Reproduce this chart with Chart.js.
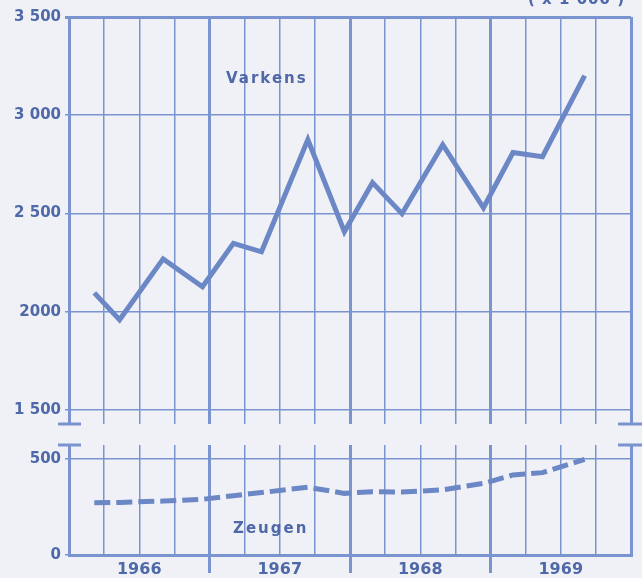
<!DOCTYPE html>
<html>
<head>
<meta charset="utf-8">
<script src="https://cdn.jsdelivr.net/npm/chart.js@4.4.1/dist/chart.umd.min.js"></script>
<style>
  body { margin: 0; background: #eff1f6; }
  #wrap { position: relative; width: 642px; height: 578px; overflow: hidden; font-family: 'DejaVu Sans', sans-serif; color: #4f68a8; }
  canvas { position: absolute; left: 0; }
  .note { position: absolute; font-size: 15px; font-weight: bold; line-height: 16px; letter-spacing: 2px; white-space: nowrap; }
</style>
</head>
<body>
<div id="wrap">
  <canvas id="top" width="642" height="437" style="top:0"></canvas>
  <canvas id="bot" width="642" height="148" style="top:430px"></canvas>
  <div class="note" style="left:226px; top:70px">Varkens</div>
  <div class="note" style="left:233px; top:520px">Zeugen</div>
  <div class="note" style="left:528px; top:-9px; letter-spacing:1px">( x 1 000 )</div>
</div>
<script>
/* Varkens en zeugen 1966-1969 (x 1000) */
const DATES = [1966.18, 1966.36, 1966.67, 1966.95, 1967.17, 1967.37, 1967.70, 1967.96,
               1968.16, 1968.37, 1968.66, 1968.95, 1969.16, 1969.37, 1969.67];
const VARKENS = [2096, 1959, 2269, 2127, 2348, 2305, 2876, 2407, 2657, 2499, 2850, 2529, 2810, 2789, 3202];
const ZEUGEN = [272, 274, 281, 290, 309, 325, 353, 321, 330, 328, 339, 373, 417, 429, 498];
const YEARS = ['1966', '1967', '1968', '1969'];
const QUARTERS = [1966, 1966.25, 1966.5, 1966.75, 1967, 1967.25, 1967.5, 1967.75,
                  1968, 1968.25, 1968.5, 1968.75, 1969, 1969.25, 1969.5, 1969.75, 1970];
const TOP_TICKS = [1500, 2000, 2500, 3000, 3500];
const TOP_LABELS = ['1 500', '2000', '2 500', '3 000', '3 500'];
const BOT_TICKS = [0, 500];
const BOT_LABELS = ['0', '500'];

const LINE = '#6c87c5';
const GRID = '#7a94cf';
const TEXT = '#4f68a8';
const FONT = { family: 'DejaVu Sans', size: 15, weight: 'bold' };

const isYear = (v) => Math.abs(v - Math.round(v)) < 1e-6;
const pts = (ys) => DATES.map((d, i) => ({ x: d, y: ys[i] }));

// korte streepjes bij de asbreuk
const breakMarks = {
  id: 'breakMarks',
  afterDraw(chart, args, opts) {
    const { left, right, top, bottom } = chart.chartArea;
    const y = opts.edge === 'bottom' ? bottom : top;
    const c = chart.ctx;
    c.save();
    c.strokeStyle = GRID; c.lineWidth = 3;
    c.beginPath();
    c.moveTo(left - 11, y); c.lineTo(left + 12, y);
    c.moveTo(right - 13, y); c.lineTo(right + 11, y);
    c.stroke();
    c.restore();
  },
};

const xScale = (bottomAxis) => ({
  type: 'linear', min: 1966, max: 1970,
  afterBuildTicks: (s) => { s.ticks = QUARTERS.map((v) => ({ value: v })); },
  afterFit: (s) => { s.height = bottomAxis ? 23 : 0; },
  ticks: {
    display: bottomAxis, autoSkip: false, maxRotation: 0, padding: -13,
    color: TEXT, font: { ...FONT, size: 16 },
    callback: (v) => (Math.abs(v % 1 - 0.5) < 1e-6 ? YEARS[Math.floor(v) - 1966] : ''),
  },
  grid: {
    color: GRID,
    lineWidth: (c) => (isYear(c.tick.value) ? 3 : 1.5),
    drawTicks: bottomAxis, tickLength: 18,
    tickColor: (c) => (isYear(c.tick.value) && c.tick.value > 1966 && c.tick.value < 1970 ? GRID : 'transparent'),
    tickWidth: 3,
  },
  border: { display: bottomAxis, width: 3, color: GRID },
});

const yScale = (min, max, ticks, labels, thickTop) => ({
  min, max,
  afterBuildTicks: (s) => { s.ticks = ticks.map((v) => ({ value: v })); },
  afterFit: (s) => { s.width = 69; },
  ticks: { color: TEXT, font: FONT, padding: 4, callback: (v) => labels[ticks.indexOf(v)] },
  grid: { color: GRID, lineWidth: (c) => (thickTop && c.tick.value === max ? 3 : 1.5), tickLength: 4 },
  border: { width: 3, color: GRID },
});

new Chart(document.getElementById('top'), {
  type: 'line',
  data: { datasets: [{ label: 'Varkens', data: pts(VARKENS), borderColor: LINE, borderWidth: 5, pointRadius: 0, tension: 0, borderJoinStyle: 'miter' }] },
  options: {
    responsive: false, animation: false, devicePixelRatio: 1,
    layout: { padding: { top: 17, right: 11, bottom: 6, left: 0 } },
    plugins: { legend: { display: false }, tooltip: { enabled: false }, breakMarks: { edge: 'bottom' } },
    scales: { x: xScale(false), y: yScale(1500 - 14 / 0.19625, 3500, TOP_TICKS, TOP_LABELS, true) },
  },
  plugins: [breakMarks],
});

new Chart(document.getElementById('bot'), {
  type: 'line',
  data: { datasets: [{ label: 'Zeugen', data: pts(ZEUGEN), borderColor: LINE, borderWidth: 5, borderDash: [16, 6], pointRadius: 0, tension: 0 }] },
  options: {
    responsive: false, animation: false, devicePixelRatio: 1,
    layout: { padding: { top: 15, right: 11, bottom: 0, left: 0 } },
    plugins: { legend: { display: false }, tooltip: { enabled: false }, breakMarks: { edge: 'top' } },
    scales: { x: xScale(true), y: yScale(0, 500 + 14 / 0.192, BOT_TICKS, BOT_LABELS, false) },
  },
  plugins: [breakMarks],
});
</script>
</body>
</html>
